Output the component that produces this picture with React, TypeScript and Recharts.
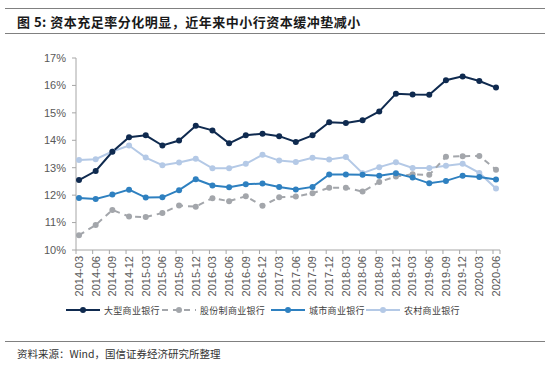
import { LineChart, Line, XAxis, YAxis } from 'recharts';

const quarters = [
  '2014-03', '2014-06', '2014-09', '2014-12',
  '2015-03', '2015-06', '2015-09', '2015-12',
  '2016-03', '2016-06', '2016-09', '2016-12',
  '2017-03', '2017-06', '2017-09', '2017-12',
  '2018-03', '2018-06', '2018-09', '2018-12',
  '2019-03', '2019-06', '2019-09', '2019-12',
  '2020-03', '2020-06',
];

// 大型商业银行
const bigBanks = [
  12.55, 12.88, 13.58, 14.11, 14.18, 13.81, 13.99, 14.53, 14.36, 13.89,
  14.18, 14.24, 14.15, 13.94, 14.18, 14.66, 14.63, 14.73, 15.05, 15.7,
  15.67, 15.66, 16.19, 16.33, 16.16, 15.92,
];
// 股份制商业银行
const jointStock = [
  10.54, 10.91, 11.46, 11.22, 11.2, 11.35, 11.62, 11.58, 11.89, 11.78,
  11.96, 11.61, 11.92, 11.95, 12.07, 12.27, 12.27, 12.13, 12.48, 12.68,
  12.76, 12.74, 13.4, 13.42, 13.43, 12.93,
];
// 城市商业银行
const cityBanks = [
  11.9, 11.86, 12.02, 12.2, 11.91, 11.92, 12.18, 12.58, 12.35, 12.29,
  12.4, 12.42, 12.3, 12.21, 12.3, 12.75, 12.75, 12.74, 12.71, 12.8,
  12.64, 12.43, 12.52, 12.71, 12.66, 12.57,
];
// 农村商业银行
const ruralBanks = [
  13.28, 13.31, 13.59, 13.81, 13.37, 13.09, 13.19, 13.33, 12.98, 12.98,
  13.14, 13.47, 13.26, 13.21, 13.36, 13.3, 13.39, 12.8, 13.02, 13.2,
  12.99, 12.99, 13.07, 13.14, 12.81, 12.24,
];

const yTicks = [10, 11, 12, 13, 14, 15, 16, 17];

const data = quarters.map((q, i) => ({
  q,
  big: bigBanks[i],
  joint: jointStock[i],
  city: cityBanks[i],
  rural: ruralBanks[i],
}));

const NAVY = '#0f2a4f';
const GRAY = '#a3a6ab';
const BLUE = '#2e80c0';
const LIGHT = '#b4c9e6';

const cjk = '"Noto Sans CJK SC", "Liberation Sans", sans-serif';
const latin = '"Liberation Sans", Arial, sans-serif';

const XTick = (props: any) => {
  const { x, y, payload, index } = props;
  return (
    <g>
      <line x1={x - 3} y1={y} x2={x - 3} y2={y + 4} stroke="#a6a6a6" />
      {index === quarters.length - 1 && (
        <line x1={x + 4} y1={y} x2={x + 4} y2={y + 4} stroke="#a6a6a6" />
      )}
      <text
        x={x}
        y={y + 6}
        transform={`rotate(-90, ${x}, ${y + 6})`}
        textAnchor="end"
        dy="0.35em"
        fontSize={11}
        fontFamily={latin}
        fill="#595959"
      >
        {payload.value}
      </text>
    </g>
  );
};

const legendItems = [
  { name: '大型商业银行', color: NAVY, dash: false, left: 66 },
  { name: '股份制商业银行', color: GRAY, dash: true, left: 162 },
  { name: '城市商业银行', color: BLUE, dash: false, left: 271 },
  { name: '农村商业银行', color: LIGHT, dash: false, left: 366 },
];

export default function App() {
  return (
    <div
      style={{
        position: 'absolute',
        left: 0,
        top: 0,
        width: 550,
        height: 365,
        background: '#fff',
        overflow: 'hidden',
      }}
    >
      <div style={{ position: 'absolute', left: 5, top: 8, width: 540, borderTop: '1.5px solid #808080' }} />
      <div
        style={{
          position: 'absolute',
          left: 17,
          top: 13,
          fontFamily: cjk,
          fontWeight: 700,
          fontSize: 13,
          letterSpacing: 0.5,
          lineHeight: '18px',
          color: '#1a1a1a',
          whiteSpace: 'nowrap',
        }}
      >
        图 5: 资本充足率分化明显，近年来中小行资本缓冲垫减小
      </div>
      <div style={{ position: 'absolute', left: 5, top: 33, width: 540, borderTop: '1.5px solid #808080' }} />

      <div style={{ position: 'absolute', left: 0, top: 0 }}>
        <LineChart
          width={550}
          height={300}
          data={data}
          margin={{ top: 58, right: 50, left: 26, bottom: 5 }}
        >
          <XAxis
            dataKey="q"
            interval={0}
            height={45}
            padding={{ left: 3, right: 4 }}
            tickSize={0}
            tickMargin={0}
            tickLine={false}
            axisLine={{ stroke: '#a6a6a6' }}
            tick={<XTick />}
          />
          <YAxis
            width={50}
            domain={[10, 17]}
            ticks={yTicks}
            tickSize={4}
            tickMargin={6}
            tickLine={{ stroke: '#a6a6a6' }}
            axisLine={{ stroke: '#a6a6a6' }}
            tickFormatter={(v: number) => `${v}%`}
            tick={{ fontSize: 11, fontFamily: latin, fill: '#595959' }}
          />
          <Line
            dataKey="rural"
            stroke={LIGHT}
            strokeWidth={2}
            dot={{ r: 3, fill: LIGHT, stroke: LIGHT, strokeWidth: 0 }}
            isAnimationActive={false}
          />
          <Line
            dataKey="joint"
            stroke={GRAY}
            strokeWidth={2}
            strokeDasharray="6 5"
            dot={{ r: 3, fill: GRAY, stroke: GRAY, strokeWidth: 0, strokeDasharray: '' }}
            isAnimationActive={false}
          />
          <Line
            dataKey="city"
            stroke={BLUE}
            strokeWidth={2}
            dot={{ r: 3, fill: BLUE, stroke: BLUE, strokeWidth: 0 }}
            isAnimationActive={false}
          />
          <Line
            dataKey="big"
            stroke={NAVY}
            strokeWidth={2}
            dot={{ r: 3, fill: NAVY, stroke: NAVY, strokeWidth: 0 }}
            isAnimationActive={false}
          />
        </LineChart>
      </div>

      {legendItems.map((it) => (
        <div
          key={it.name}
          style={{
            position: 'absolute',
            left: it.left,
            top: 302,
            height: 16,
            display: 'flex',
            alignItems: 'center',
            whiteSpace: 'nowrap',
          }}
        >
          <svg width={34} height={16} style={{ display: 'block' }}>
            <line
              x1={0}
              y1={8}
              x2={34}
              y2={8}
              stroke={it.color}
              strokeWidth={2}
              strokeDasharray={it.dash ? '6 5' : undefined}
            />
            <circle cx={17} cy={8} r={3} fill={it.color} />
          </svg>
          <span
            style={{
              marginLeft: 4,
              fontFamily: cjk,
              fontSize: 9,
              letterSpacing: 0.3,
              color: '#404040',
            }}
          >
            {it.name}
          </span>
        </div>
      ))}

      <div style={{ position: 'absolute', left: 5, top: 341, width: 540, borderTop: '1.5px solid #808080' }} />
      <div
        style={{
          position: 'absolute',
          left: 17,
          top: 346,
          fontFamily: cjk,
          fontSize: 10.5,
          lineHeight: '16px',
          color: '#333',
          whiteSpace: 'nowrap',
        }}
      >
        资料来源：Wind，国信证券经济研究所整理
      </div>
    </div>
  );
}
